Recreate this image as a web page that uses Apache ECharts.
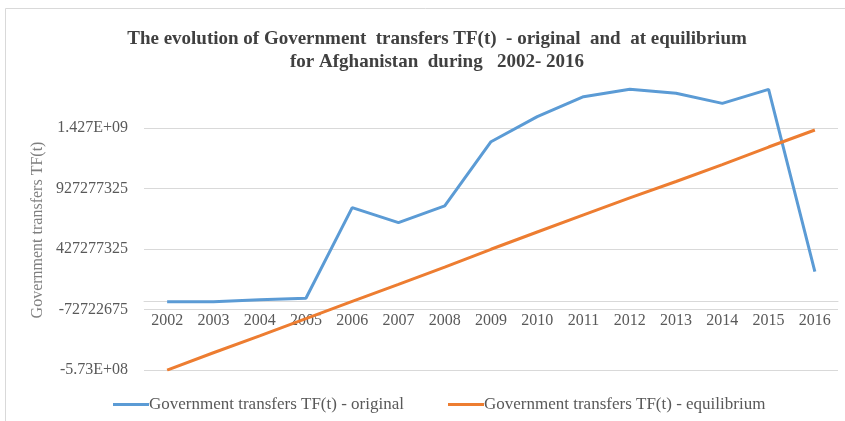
<!DOCTYPE html>
<html><head><meta charset="utf-8">
<script src="https://cdn.jsdelivr.net/npm/echarts@6/dist/echarts.min.js"></script>
<style>html,body{margin:0;padding:0;background:#fff}#c{width:845px;height:421px}</style>
</head><body><div id="c"></div>
<script>
const years = ['2002','2003','2004','2005','2006','2007','2008','2009','2010','2011','2012','2013','2014','2015','2016'];
const original = [-8e6, -8e6, 8e6, 20e6, 769e6, 645e6, 783e6, 1314e6, 1521e6, 1686e6, 1747e6, 1714e6, 1631e6, 1747e6, 240e6];
const equilibrium = [-573e6, -430e6, -290e6, -148e6, -5e6, 135e6, 278e6, 425e6, 568e6, 710e6, 850e6, 985e6, 1125e6, 1270e6, 1411e6];
const yMin = -572722675, yInterval = 500000000, yMax = 1927277325;
const yTickLabels = ['-5.73E+08','-72722675','427277325','927277325','1.427E+09',''];
const seriesNames = ['Government transfers TF(t) - original','Government transfers TF(t) - equilibrium'];

const chart = echarts.init(document.getElementById('c'));
const serif = '"Liberation Serif","Times New Roman",serif';
const legendCommon = {
  top:391, icon:'rect', itemWidth:36, itemHeight:3,
  textStyle:{fontFamily:serif,fontSize:17,color:'#595959',padding:[0,0,0,-5]}
};
chart.setOption({
  animation:false,
  title:{
    text:'The evolution of Government  transfers TF(t)  - original  and  at equilibrium\nfor Afghanistan  during   2002- 2016',
    left:432, top:23, textAlign:'center',
    textStyle:{fontFamily:serif,fontWeight:'bold',fontSize:19,color:'#404040',lineHeight:23}
  },
  graphic:[
    {type:'rect',shape:{x:5.5,y:8.5,width:845,height:420},style:{fill:'none',stroke:'#d9d9d9',lineWidth:1},silent:true},
    {type:'text',x:38,y:230,rotation:Math.PI/2,style:{text:'Government transfers TF(t)',fontFamily:serif,fontSize:16,fill:'#7f7f7f',align:'center',verticalAlign:'middle'}}
  ],
  legend:[
    Object.assign({left:108,data:[seriesNames[0]]},legendCommon),
    Object.assign({left:443,data:[seriesNames[1]]},legendCommon)
  ],
  grid:{left:144,right:7,top:67.5,bottom:51},
  xAxis:{
    type:'category',data:years,boundaryGap:true,position:'bottom',offset:-69,
    axisLine:{onZero:false,lineStyle:{color:'#d9d9d9',width:1}},
    axisTick:{show:false},
    axisLabel:{fontFamily:serif,fontSize:16,color:'#595959',margin:12}
  },
  yAxis:{
    type:'value',min:yMin,max:yMax,interval:yInterval,
    axisLine:{show:false},axisTick:{show:false},
    splitLine:{lineStyle:{color:['#d9d9d9','#d9d9d9','#d9d9d9','#d9d9d9','#d9d9d9','rgba(0,0,0,0)'],width:1}},
    axisLabel:{fontFamily:serif,fontSize:16,color:'#595959',margin:16,
      formatter:function(v){const i=Math.round((v-yMin)/yInterval);return yTickLabels[i]!==undefined?yTickLabels[i]:'';}}
  },
  series:[
    {name:seriesNames[0],type:'line',data:original,symbol:'none',lineStyle:{color:'#5b9bd5',width:3},itemStyle:{color:'#5b9bd5'}},
    {name:seriesNames[1],type:'line',data:equilibrium,symbol:'none',lineStyle:{color:'#ed7d31',width:3},itemStyle:{color:'#ed7d31'}}
  ]
});
</script></body></html>
